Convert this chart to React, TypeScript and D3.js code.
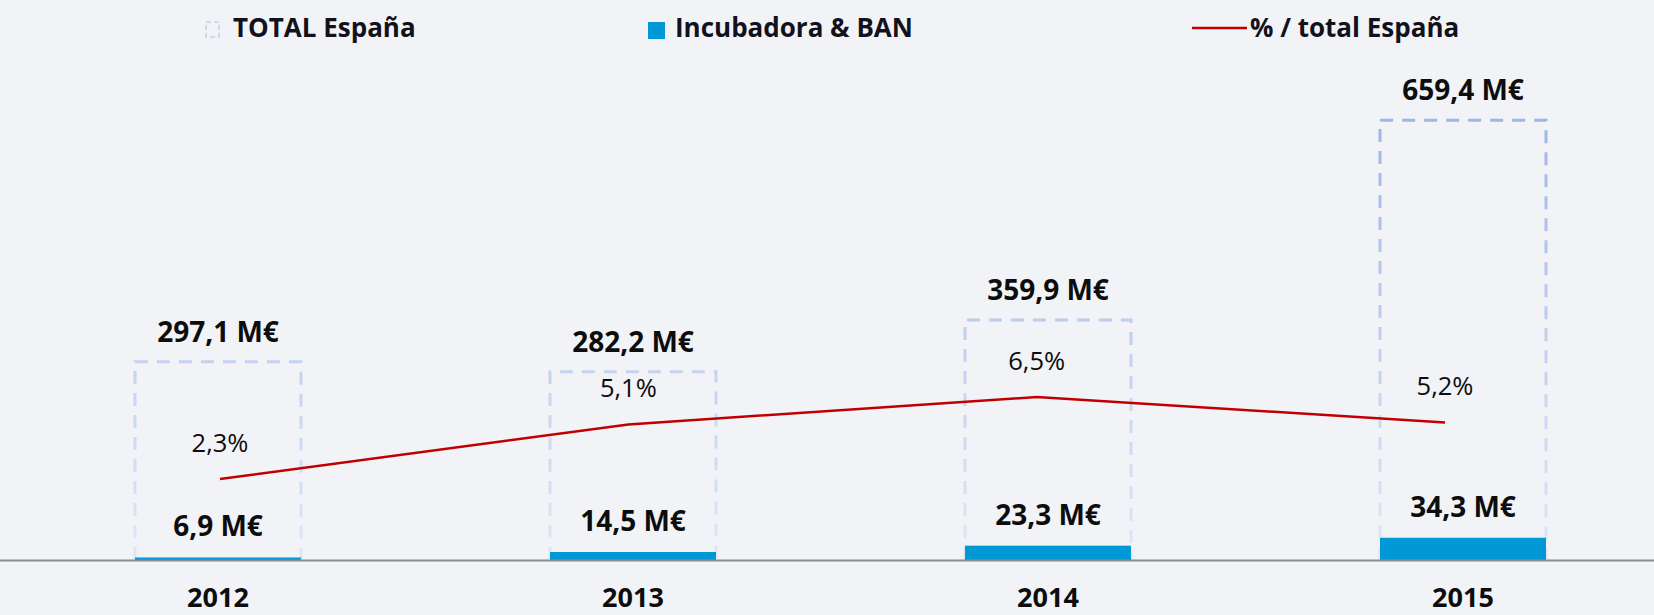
import React from "react";
import * as d3 from "d3";

const years = ["2012", "2013", "2014", "2015"];
const totalEspana = [297.1, 282.2, 359.9, 659.4];
const incubadoraBan = [6.9, 14.5, 23.3, 34.3];
const pctTotal = [2.3, 5.1, 6.5, 5.2];
const totalLabels = ["297,1 M€", "282,2 M€", "359,9 M€", "659,4 M€"];
const incLabels = ["6,9 M€", "14,5 M€", "23,3 M€", "34,3 M€"];
const pctLabels = ["2,3%", "5,1%", "6,5%", "5,2%"];
const legendNames = ["TOTAL España", "Incubadora & BAN", "% / total España"];

const W = 1654;
const H = 615;
const BASE = 560;
const FONT = "'Open Sans', 'DejaVu Sans', sans-serif";

export default function App() {
  const x = d3
    .scaleBand<string>()
    .domain(years)
    .range([10.5, 1670.5])
    .paddingInner(0.6)
    .paddingOuter(0.3);
  const xLine = d3.scalePoint<string>().domain(years).range([220, 1445]);
  const yTotal = d3.scaleLinear().domain([0, 700]).range([BASE, BASE - 700 * 0.667]);
  const yInc = d3.scaleLinear().domain([3.4, 50]).range([BASE, BASE - 46.6 * 0.72]);
  const yPct = d3.scaleLinear().domain([0, 10]).range([479 + 2.3 * 19.5, 479 - 7.7 * 19.5]);

  const line = d3
    .line<number>()
    .x((_, i) => xLine(years[i])!)
    .y((d) => yPct(d));

  const bw = x.bandwidth();

  return (
    <svg
      width={W}
      height={H}
      style={{ position: "absolute", left: 0, top: 0, display: "block" }}
    >
      <defs>
        <linearGradient id="dashGrad" gradientUnits="userSpaceOnUse" x1="0" y1="117" x2="0" y2="560">
          <stop offset="0" stopColor="#9db5e7" />
          <stop offset="0.55" stopColor="#c3d2f0" />
          <stop offset="1" stopColor="#dfe7f6" />
        </linearGradient>
      </defs>
      <rect x={0} y={0} width={W} height={H} fill="#f2f3f6" />

      {/* Legend */}
      <g fontFamily={FONT} fontWeight={700} fontSize={26} fill="#12121c">
        <rect x={206} y={22} width={13} height={15} fill="none" stroke="#cfdaf2" strokeWidth={2} strokeDasharray="5 3" />
        <text x={233} y={37}>{legendNames[0]}</text>
        <rect x={648} y={22} width={17} height={17} fill="#0099d5" />
        <text x={675} y={37}>{legendNames[1]}</text>
        <line x1={1192} x2={1247} y1={28} y2={28} stroke="#c00000" strokeWidth={2.5} />
        <text x={1250} y={37}>{legendNames[2]}</text>
      </g>

      {/* Total dashed outlines */}
      {years.map((yr, i) => {
        const x0 = x(yr)!;
        const top = yTotal(totalEspana[i]);
        return (
          <path
            key={"t" + yr}
            d={`M${x0},${BASE} V${top} H${x0 + bw} V${BASE}`}
            fill="none"
            stroke="url(#dashGrad)"
            strokeWidth={3}
            strokeDasharray="13 9"
          />
        );
      })}

      {/* Incubadora bars */}
      {years.map((yr, i) => {
        const top = yInc(incubadoraBan[i]);
        return (
          <rect key={"b" + yr} x={x(yr)} y={top} width={bw} height={BASE - top} fill="#0099d5" />
        );
      })}

      {/* axis line */}
      <line x1={0} x2={W} y1={BASE + 0.5} y2={BASE + 0.5} stroke="#8c8c8c" strokeWidth={2} />

      {/* % line */}
      <path d={line(pctTotal)!} fill="none" stroke="#c00000" strokeWidth={2.5} />

      {/* labels */}
      <g fontFamily={FONT} textAnchor="middle" fill="#0d0d0d">
        {years.map((yr, i) => (
          <text key={"tl" + yr} x={x(yr)! + bw / 2} y={yTotal(totalEspana[i]) - 20} fontSize={28} fontWeight={700}>
            {totalLabels[i]}
          </text>
        ))}
        {years.map((yr, i) => (
          <text key={"il" + yr} x={x(yr)! + bw / 2} y={yInc(incubadoraBan[i]) - 21} fontSize={28} fontWeight={700}>
            {incLabels[i]}
          </text>
        ))}
        {years.map((yr, i) => (
          <text key={"pl" + yr} x={xLine(yr)!} y={yPct(pctTotal[i]) - 27} fontSize={25.5} fontWeight={400}>
            {pctLabels[i]}
          </text>
        ))}
        {years.map((yr) => (
          <text key={"yl" + yr} x={x(yr)! + bw / 2} y={607} fontSize={27} fontWeight={700}>
            {yr}
          </text>
        ))}
      </g>
    </svg>
  );
}
